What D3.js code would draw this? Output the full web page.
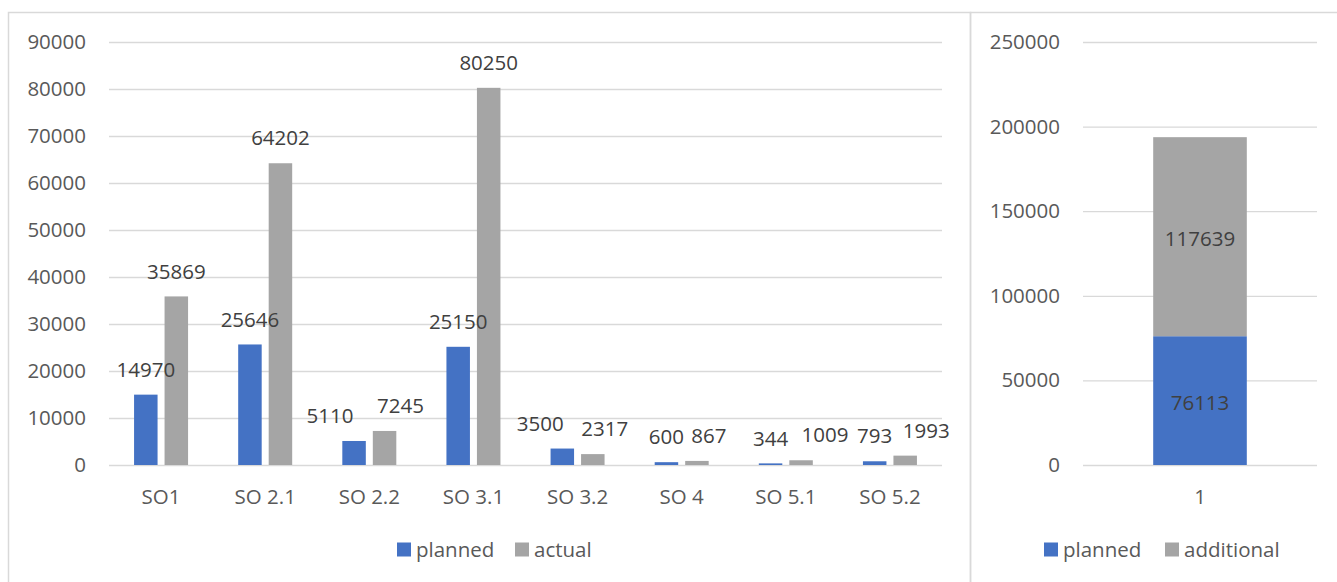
<!DOCTYPE html>
<html>
<head>
<meta charset="utf-8">
<script src="https://cdn.jsdelivr.net/npm/d3@7"></script>
<style>
  body { margin: 0; background: #fff; }
  svg text { font-family: "Open Sans", sans-serif; }
</style>
</head>
<body>
<svg id="chart" width="1337" height="582"></svg>
<script>
// data
const categories = ["SO1", "SO 2.1", "SO 2.2", "SO 3.1", "SO 3.2", "SO 4", "SO 5.1", "SO 5.2"];
const planned = [14970, 25646, 5110, 25150, 3500, 600, 344, 793];
const actual = [35869, 64202, 7245, 80250, 2317, 867, 1009, 1993];
const leftTicks = [0, 10000, 20000, 30000, 40000, 50000, 60000, 70000, 80000, 90000];

const totalCategories = ["1"];
const totalPlanned = [76113];
const totalAdditional = [117639];
const rightTicks = [0, 50000, 100000, 150000, 200000, 250000];

// label nudges so neighbouring labels don't collide (px, horizontal)
const plannedShift = [0, 0, -24, 0, -22, 0, 0, 0];
const actualShift = [0, 0, 16, 0, 12, 12, 24, 21];

const BLUE = "#4472C4", GRAY = "#A5A5A5", GRID = "#D9D9D9";
const TICK_TXT = "#595959", LABEL_TXT = "#404040";
const FS = 20.5;

const svg = d3.select("#chart");

// panel borders
svg.append("rect").attr("x", 8.5).attr("y", 12.5).attr("width", 962).attr("height", 600)
  .attr("fill", "none").attr("stroke", GRID).attr("stroke-width", 1.5);
svg.append("rect").attr("x", 970.5).attr("y", 12.5).attr("width", 400).attr("height", 600)
  .attr("fill", "none").attr("stroke", GRID).attr("stroke-width", 1.5);

// ---------- left chart ----------
const L = { x0: 109, x1: 942, y0: 465, y1: 42 };

const x = d3.scaleBand().domain(categories).range([L.x0, L.x1]);
const y = d3.scaleLinear().domain([0, 90000]).range([L.y0, L.y1]);

const left = svg.append("g");

const yAxisL = d3.axisLeft(y).tickValues(leftTicks).tickSize(-(L.x1 - L.x0)).tickPadding(23).tickFormat(d3.format("d"));
left.append("g").attr("transform", `translate(${L.x0},0)`).call(yAxisL)
  .call(g => g.select(".domain").remove())
  .call(g => g.selectAll("line").attr("stroke", GRID).attr("stroke-width", 1.3))
  .call(g => g.selectAll("text").attr("fill", TICK_TXT).attr("font-size", FS)
    .attr("font-family", "'Open Sans', sans-serif"));

const xAxisL = d3.axisBottom(x).tickSize(0).tickPadding(24);
left.append("g").attr("transform", `translate(0,${L.y0})`).call(xAxisL)
  .call(g => g.select(".domain").remove())
  .call(g => g.selectAll("text").attr("fill", TICK_TXT).attr("font-size", FS)
    .attr("font-family", "'Open Sans', sans-serif"));

const barW = 23.5, gap = 7;
const series = [
  { name: "planned", values: planned, color: BLUE, off: -(gap / 2 + barW), shift: plannedShift },
  { name: "actual", values: actual, color: GRAY, off: gap / 2, shift: actualShift }
];
const cx = i => x(categories[i]) + x.bandwidth() / 2;

// bars first, then all labels on top
const barLayer = left.append("g");
const labelLayer = left.append("g");

series.forEach(s => {
  barLayer.append("g").selectAll("rect").data(s.values).enter().append("rect")
    .attr("x", (d, i) => cx(i) + s.off)
    .attr("y", d => y(d))
    .attr("width", barW)
    .attr("height", d => y(0) - y(d))
    .attr("fill", s.color);
  labelLayer.append("g").selectAll("text").data(s.values).enter().append("text")
    .attr("x", (d, i) => cx(i) + s.off + barW / 2 + s.shift[i])
    .attr("y", d => y(d) - 25)
    .attr("dy", "0.35em")
    .attr("text-anchor", "middle")
    .attr("font-size", FS)
    .attr("fill", LABEL_TXT)
    .text(d => d);
});

// left legend
const legL = [{ name: "planned", color: BLUE, x: 397 }, { name: "actual", color: GRAY, x: 515 }];
legL.forEach(l => {
  svg.append("rect").attr("x", l.x).attr("y", 542.5).attr("width", 14).attr("height", 14).attr("fill", l.color);
  svg.append("text").attr("x", l.x + 19).attr("y", 549.5).attr("dy", "0.35em")
    .attr("font-size", FS).attr("fill", TICK_TXT).text(l.name);
});

// ---------- right chart ----------
const R = { x0: 1083, x1: 1317, y0: 465, y1: 42 };

const x2 = d3.scaleBand().domain(totalCategories).range([R.x0, R.x1]).paddingInner(0.6).paddingOuter(0.3);
const y2 = d3.scaleLinear().domain([0, 250000]).range([R.y0, R.y1]);

const right = svg.append("g");

const yAxisR = d3.axisLeft(y2).tickValues(rightTicks).tickSize(-(R.x1 - R.x0)).tickPadding(23).tickFormat(d3.format("d"));
right.append("g").attr("transform", `translate(${R.x0},0)`).call(yAxisR)
  .call(g => g.select(".domain").remove())
  .call(g => g.selectAll("line").attr("stroke", GRID).attr("stroke-width", 1.3))
  .call(g => g.selectAll("text").attr("fill", TICK_TXT).attr("font-size", FS)
    .attr("font-family", "'Open Sans', sans-serif"));

const xAxisR = d3.axisBottom(x2).tickSize(0).tickPadding(24);
right.append("g").attr("transform", `translate(0,${R.y0})`).call(xAxisR)
  .call(g => g.select(".domain").remove())
  .call(g => g.selectAll("text").attr("fill", TICK_TXT).attr("font-size", FS)
    .attr("font-family", "'Open Sans', sans-serif"));

const stackData = totalCategories.map((c, i) => ({ cat: c, planned: totalPlanned[i], additional: totalAdditional[i] }));
const stacked = d3.stack().keys(["planned", "additional"])(stackData);
const stackColors = { planned: BLUE, additional: GRAY };

stacked.forEach(layer => {
  const g = right.append("g");
  g.selectAll("rect").data(layer).enter().append("rect")
    .attr("x", d => x2(d.data.cat))
    .attr("y", d => y2(d[1]))
    .attr("width", x2.bandwidth())
    .attr("height", d => y2(d[0]) - y2(d[1]))
    .attr("fill", stackColors[layer.key]);
  g.selectAll("text").data(layer).enter().append("text")
    .attr("x", d => x2(d.data.cat) + x2.bandwidth() / 2)
    .attr("y", d => (y2(d[0]) + y2(d[1])) / 2 + 2)
    .attr("dy", "0.35em")
    .attr("text-anchor", "middle")
    .attr("font-size", FS)
    .attr("fill", LABEL_TXT)
    .text(d => d[1] - d[0]);
});

// right legend
const legR = [{ name: "planned", color: BLUE, x: 1044 }, { name: "additional", color: GRAY, x: 1165 }];
legR.forEach(l => {
  svg.append("rect").attr("x", l.x).attr("y", 542.5).attr("width", 14).attr("height", 14).attr("fill", l.color);
  svg.append("text").attr("x", l.x + 19).attr("y", 549.5).attr("dy", "0.35em")
    .attr("font-size", FS).attr("fill", TICK_TXT).text(l.name);
});
</script>
</body>
</html>
